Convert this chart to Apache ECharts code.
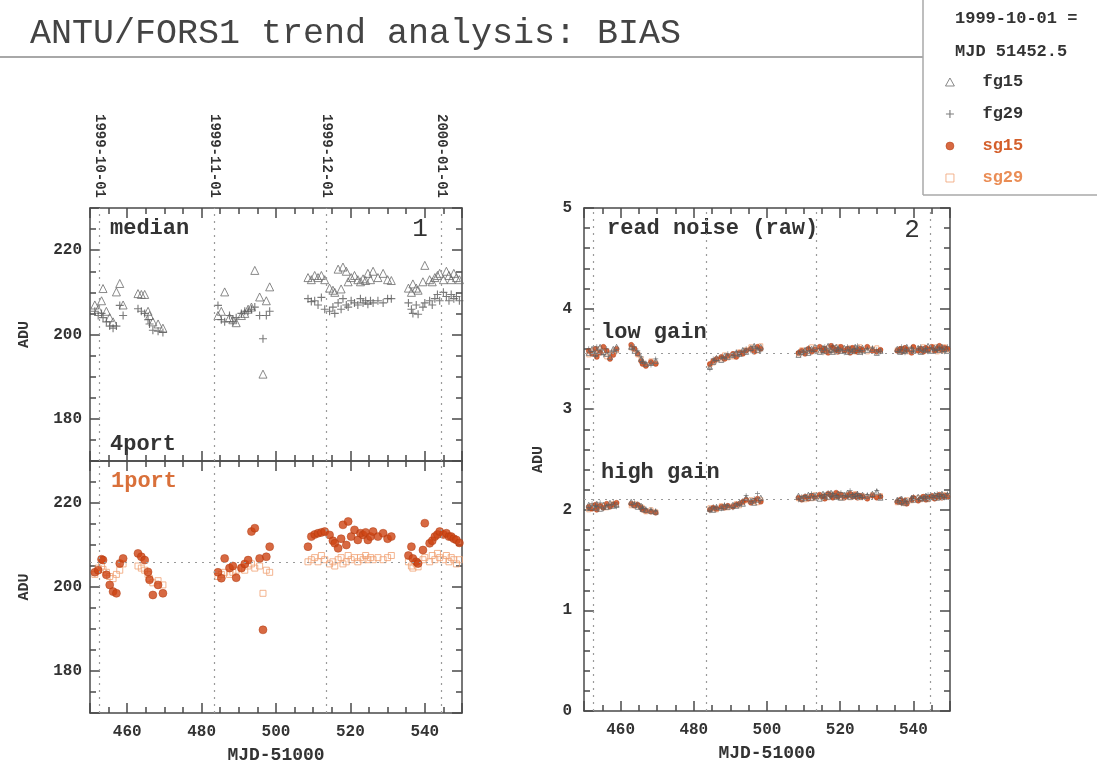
<!DOCTYPE html>
<html>
<head>
<meta charset="utf-8">
<script src="https://cdn.jsdelivr.net/npm/echarts@6/dist/echarts.min.js"></script>
<style>html,body{margin:0;padding:0;background:#fff}#c{width:1097px;height:767px}</style>
</head>
<body>
<div id="c"></div>
<script>
// ---- data (MJD-51000 of each observation night) ----
const mjd = [
  451.3, 452.2, 453.1, 453.5, 454.4, 455.3, 456.2, 457.1, 458.0, 458.9, 462.9, 463.8, 464.7, 465.6, 466.0, 466.9, 468.3, 469.6,
  484.4, 485.3, 486.2, 487.5, 488.4, 489.3, 490.7, 491.6, 492.5, 493.4, 494.3, 495.6, 496.5, 497.4, 498.3,
  508.6, 509.5, 510.4, 511.3, 512.2, 513.1, 514.4, 515.3, 515.8, 516.7, 517.5, 518.0, 518.9, 519.4, 520.2, 521.1, 522.0, 522.7, 523.4, 524.1, 524.7, 525.4, 526.1, 527.4, 528.8, 530.0, 531.0,
  535.6, 536.4, 536.8, 537.7, 538.2, 539.5, 540.0, 541.3, 542.0, 542.7, 543.4, 544.0, 545.0, 545.8, 546.5, 547.1, 547.8, 548.5, 549.3
];
// panel 1: median bias, 4port (fg) and 1port (sg)
const fg15Median = [
  207.0, 206.0, 208.0, 210.9, 205.5, 204.0, 203.0, 210.1, 212.1, 207.0, 209.7, 209.5, 209.5, 205.5, 204.5, 203.0, 202.5, 201.5,
  204.5, 205.5, 210.1, 204.0, 203.5, 202.8, 204.5, 205.0, 206.0, 206.5, 215.2, 208.9, 190.6, 208.0, 211.3,
  213.5, 213.0, 214.0, 213.5, 214.0, 213.0, 211.0, 210.5, 210.0, 215.5, 210.8, 216.0, 215.0, 212.5, 213.5, 214.0, 213.0, 212.5, 213.2, 212.8, 214.5, 213.0, 215.0, 213.5, 214.5, 213.0, 212.8,
  211.0, 210.0, 212.0, 211.0, 210.5, 212.5, 216.4, 213.0, 212.5, 213.5, 214.0, 214.5, 213.0, 215.0, 214.0, 213.0, 214.5, 213.5, 213.0
];
const fg29Median = [
  205.5, 204.5, 205.0, 204.0, 203.0, 202.0, 201.5, 202.0, 206.9, 204.5, 206.1, 205.5, 205.0, 203.5, 202.5, 201.0, 200.8, 200.5,
  206.9, 203.5, 203.0, 204.5, 203.0, 204.0, 205.0, 205.5, 205.5, 206.0, 206.5, 204.5, 199.0, 204.5, 205.5,
  208.5, 207.8, 208.0, 207.0, 208.8, 206.0, 205.5, 206.5, 205.0, 207.5, 206.0, 208.5, 207.0, 206.5, 208.0, 207.5, 207.0, 208.5, 207.5, 208.0, 207.2, 208.0, 207.5, 208.0, 207.5, 208.5, 208.5,
  207.5, 206.0, 205.0, 207.0, 204.8, 206.5, 207.5, 208.0, 207.0, 208.5, 209.5, 208.0, 210.0, 209.0, 208.0, 209.5, 208.5, 209.0, 208.0
];
const sg15Median = [
  203.5, 204.0, 206.6, 206.4, 202.9, 200.5, 198.9, 198.5, 205.6, 206.8, 208.0, 207.2, 206.4, 203.6, 201.7, 198.1, 200.5, 198.5,
  203.5, 202.1, 206.8, 204.5, 205.0, 202.2, 204.5, 205.5, 206.4, 213.2, 214.0, 206.8, 189.8, 207.2, 209.6,
  209.6, 212.0, 212.5, 212.8, 213.0, 213.2, 212.4, 211.0, 210.4, 209.2, 211.5, 214.8, 210.0, 215.6, 212.0, 213.6, 211.2, 212.8, 212.4, 213.0, 211.2, 212.0, 213.2, 212.0, 212.8, 211.5, 212.0,
  207.5, 209.6, 206.8, 206.0, 205.6, 208.8, 215.2, 210.4, 211.0, 212.0, 212.5, 213.2, 212.5, 212.8, 212.0, 212.0, 211.5, 211.2, 210.5
];
const sg29Median = [
  203.0, 204.5, 205.0, 204.2, 203.5, 202.5, 202.0, 203.0, 204.0, 205.5, 205.0, 204.5, 204.0, 203.0, 202.0, 201.0, 201.5, 200.5,
  202.5, 203.0, 203.5, 203.0, 203.5, 204.0, 204.5, 204.0, 205.0, 205.5, 204.5, 205.0, 198.5, 204.0, 203.5,
  206.0, 206.5, 207.0, 206.0, 207.5, 206.5, 205.5, 206.0, 205.0, 206.5, 207.0, 205.5, 206.0, 207.5, 206.5, 207.0, 206.0, 207.0, 206.5, 207.5, 206.5, 207.0, 206.5, 207.0, 206.5, 207.0, 207.5,
  206.0, 205.0, 204.5, 205.5, 204.8, 206.5, 207.0, 206.0, 207.5, 206.5, 208.0, 207.0, 206.5, 207.5, 206.0, 207.0, 206.5, 205.5, 206.5
];
// panel 2: read noise (raw), low gain
const fg15Low = [
  3.56, 3.60, 3.55, 3.58, 3.62, 3.57, 3.55, 3.52, 3.60, 3.62, 3.62, 3.58, 3.56, 3.50, 3.48, 3.45, 3.46, 3.48,
  3.42, 3.47, 3.51, 3.49, 3.53, 3.52, 3.54, 3.56, 3.55, 3.59, 3.57, 3.61, 3.63, 3.59, 3.62,
  3.54, 3.57, 3.59, 3.56, 3.60, 3.62, 3.57, 3.61, 3.58, 3.63, 3.59, 3.57, 3.62, 3.60, 3.58, 3.61, 3.57, 3.60, 3.58, 3.62, 3.60, 3.57, 3.61, 3.59, 3.60, 3.56, 3.58,
  3.60, 3.57, 3.59, 3.58, 3.62, 3.60, 3.58, 3.61, 3.57, 3.60, 3.59, 3.63, 3.58, 3.61, 3.62, 3.59, 3.62, 3.60, 3.58
];
const fg29Low = [
  3.60, 3.57, 3.53, 3.62, 3.58, 3.54, 3.60, 3.56, 3.58, 3.57, 3.60, 3.62, 3.58, 3.52, 3.47, 3.46, 3.44, 3.50,
  3.40, 3.50, 3.48, 3.52, 3.51, 3.55, 3.53, 3.57, 3.54, 3.58, 3.60, 3.58, 3.62, 3.60, 3.58,
  3.57, 3.55, 3.58, 3.61, 3.58, 3.57, 3.60, 3.56, 3.62, 3.59, 3.57, 3.63, 3.58, 3.61, 3.59, 3.56, 3.62, 3.59, 3.57, 3.60, 3.63, 3.58, 3.56, 3.60, 3.61, 3.59, 3.57,
  3.57, 3.59, 3.62, 3.56, 3.58, 3.61, 3.57, 3.60, 3.62, 3.58, 3.60, 3.57, 3.61, 3.59, 3.58, 3.61, 3.60, 3.57, 3.62
];
const sg15Low = [
  3.58, 3.55, 3.60, 3.52, 3.56, 3.62, 3.58, 3.50, 3.54, 3.60, 3.64, 3.60, 3.55, 3.48, 3.45, 3.43, 3.47, 3.45,
  3.45, 3.48, 3.50, 3.52, 3.50, 3.53, 3.55, 3.52, 3.56, 3.55, 3.58, 3.60, 3.57, 3.62, 3.60,
  3.56, 3.58, 3.55, 3.60, 3.57, 3.59, 3.62, 3.58, 3.60, 3.56, 3.63, 3.61, 3.59, 3.57, 3.62, 3.58, 3.60, 3.56, 3.61, 3.58, 3.57, 3.60, 3.59, 3.62, 3.58, 3.57, 3.59,
  3.58, 3.60, 3.57, 3.61, 3.59, 3.56, 3.62, 3.58, 3.60, 3.57, 3.61, 3.59, 3.62, 3.58, 3.60, 3.63, 3.59, 3.61, 3.60
];
const sg29Low = [
  3.54, 3.58, 3.57, 3.55, 3.60, 3.58, 3.52, 3.55, 3.57, 3.58, 3.61, 3.59, 3.54, 3.50, 3.46, 3.44, 3.48, 3.46,
  3.44, 3.46, 3.49, 3.50, 3.54, 3.51, 3.52, 3.54, 3.57, 3.56, 3.59, 3.62, 3.60, 3.58, 3.63,
  3.55, 3.59, 3.57, 3.58, 3.62, 3.60, 3.58, 3.60, 3.57, 3.61, 3.58, 3.60, 3.57, 3.62, 3.60, 3.59, 3.58, 3.61, 3.60, 3.57, 3.59, 3.62, 3.58, 3.57, 3.60, 3.61, 3.58,
  3.59, 3.58, 3.60, 3.59, 3.57, 3.60, 3.61, 3.59, 3.58, 3.62, 3.58, 3.60, 3.59, 3.62, 3.57, 3.60, 3.58, 3.62, 3.59
];
// panel 2: read noise (raw), high gain
const fg15High = [
  2.05, 2.03, 2.02, 2.06, 2.01, 2.05, 2.03, 2.07, 2.04, 2.05, 2.08, 2.05, 2.03, 2.04, 2.01, 2.00, 1.99, 1.98,
  2.01, 2.00, 2.03, 2.02, 2.04, 2.03, 2.05, 2.04, 2.07, 2.06, 2.12, 2.09, 2.07, 2.10, 2.12,
  2.14, 2.11, 2.12, 2.15, 2.12, 2.14, 2.11, 2.16, 2.14, 2.13, 2.17, 2.15, 2.13, 2.16, 2.12, 2.15, 2.17, 2.13, 2.15, 2.14, 2.16, 2.13, 2.15, 2.14, 2.16, 2.18, 2.12,
  2.10, 2.08, 2.11, 2.07, 2.09, 2.12, 2.10, 2.13, 2.11, 2.12, 2.14, 2.11, 2.13, 2.15, 2.12, 2.14, 2.16, 2.13, 2.15
];
const fg29High = [
  2.02, 2.06, 2.04, 2.03, 2.07, 2.01, 2.04, 2.05, 2.07, 2.03, 2.05, 2.07, 2.06, 2.01, 2.03, 2.01, 2.00, 1.99,
  1.99, 2.03, 2.02, 2.01, 2.05, 2.04, 2.02, 2.06, 2.05, 2.09, 2.14, 2.08, 2.11, 2.16, 2.09,
  2.10, 2.13, 2.14, 2.12, 2.16, 2.13, 2.14, 2.12, 2.15, 2.17, 2.13, 2.16, 2.14, 2.12, 2.17, 2.14, 2.13, 2.19, 2.15, 2.13, 2.16, 2.14, 2.12, 2.15, 2.13, 2.19, 2.14,
  2.09, 2.11, 2.06, 2.10, 2.08, 2.11, 2.13, 2.10, 2.12, 2.11, 2.13, 2.15, 2.12, 2.14, 2.16, 2.13, 2.15, 2.12, 2.16
];
const sg15High = [
  2.03, 2.01, 2.05, 2.00, 2.04, 2.02, 2.06, 2.03, 2.05, 2.07, 2.06, 2.04, 2.05, 2.02, 2.00, 1.99, 1.98, 1.97,
  2.00, 2.02, 2.01, 2.03, 2.02, 2.04, 2.03, 2.05, 2.06, 2.08, 2.10, 2.07, 2.09, 2.11, 2.08,
  2.12, 2.10, 2.13, 2.11, 2.14, 2.12, 2.15, 2.13, 2.11, 2.16, 2.14, 2.12, 2.17, 2.13, 2.15, 2.12, 2.14, 2.16, 2.13, 2.15, 2.12, 2.14, 2.13, 2.11, 2.14, 2.12, 2.13,
  2.08, 2.10, 2.07, 2.09, 2.06, 2.10, 2.12, 2.09, 2.11, 2.13, 2.10, 2.12, 2.14, 2.11, 2.13, 2.15, 2.12, 2.14, 2.13
];
const sg29High = [
  2.00, 2.04, 2.03, 2.02, 2.03, 2.04, 2.02, 2.04, 2.06, 2.05, 2.04, 2.06, 2.04, 2.03, 2.02, 1.98, 2.00, 1.98,
  2.02, 2.01, 2.00, 2.04, 2.03, 2.02, 2.04, 2.06, 2.04, 2.07, 2.09, 2.10, 2.08, 2.07, 2.10,
  2.11, 2.12, 2.10, 2.13, 2.11, 2.15, 2.13, 2.12, 2.14, 2.12, 2.15, 2.13, 2.14, 2.16, 2.12, 2.14, 2.15, 2.12, 2.14, 2.16, 2.13, 2.12, 2.14, 2.13, 2.15, 2.13, 2.14,
  2.07, 2.09, 2.08, 2.06, 2.10, 2.09, 2.11, 2.12, 2.10, 2.13, 2.12, 2.10, 2.13, 2.12, 2.14, 2.12, 2.13, 2.15, 2.14
];
// reference marks and labels
const dateTicks = [452.5, 483.5, 513.5, 544.5];
const dateLabels = ['1999-10-01', '1999-11-01', '1999-12-01', '2000-01-01'];
const biasRef = [206];
const noiseRef = [3.56, 2.10];

// ---- chart ----
const MONO = '"Liberation Mono", "DejaVu Sans Mono", monospace';
const FRAME = '#4a4a4a';
const pairs = ys => mjd.map((x, i) => (ys[i] == null ? null : [x, ys[i]])).filter(Boolean);
const symPlus = 'path://M4.3,0H5.7V10H4.3Z M0,4.3H10V5.7H0Z';
const iconTri = 'path://M5,0L10,9H0Z';
const iconSq = 'path://M0,0H10V10H0Z';
const look = {
  fg15: { symbol: 'triangle', itemStyle: { color: 'rgba(255,255,255,0)', borderColor: '#6b6b6b', borderWidth: 1 } },
  fg29: { symbol: symPlus, itemStyle: { color: '#5a5a5a' } },
  sg15: { symbol: 'circle', itemStyle: { color: '#cd4413', borderColor: '#b03a10', borderWidth: 0.6 } },
  sg29: { symbol: 'rect', itemStyle: { color: 'rgba(255,255,255,0)', borderColor: '#f0a173', borderWidth: 1 } }
};
const bigSize = { fg15: 8, fg29: 8, sg15: 8, sg29: 6 };
const smallSize = { fg15: 5, fg29: 5, sg15: 5, sg29: 4 };

function refLines(hvals) {
  return {
    silent: true, symbol: 'none', animation: false,
    label: { show: false },
    lineStyle: { color: '#9a9a9a', type: [2, 5], width: 1.2 },
    emphasis: { disabled: true },
    data: dateTicks.map(v => ({ xAxis: v })).concat(hvals.map(v => ({ yAxis: v })))
  };
}
function sc(name, xi, yi, data, size, ml) {
  const s = {
    type: 'scatter', name: name, xAxisIndex: xi, yAxisIndex: yi, data: data,
    symbol: look[name].symbol, symbolSize: size[name], itemStyle: look[name].itemStyle,
    animation: false, emphasis: { disabled: true }
  };
  if (ml) s.markLine = ml;
  return s;
}
const lineStyle = { color: FRAME, width: 1.5 };
function xAx(grid, pos, labels, name) {
  return {
    type: 'value', gridIndex: grid, position: pos, min: 450, max: 550, splitNumber: 5,
    axisLine: { show: true, onZero: false, lineStyle },
    axisTick: { show: true, inside: true, length: 10, lineStyle },
    minorTick: { show: true, splitNumber: 4, length: 6, lineStyle },
    splitLine: { show: false },
    axisLabel: labels ? { show: true, showMinLabel: false, showMaxLabel: false, margin: 11,
      fontFamily: MONO, fontSize: 16, fontWeight: 'bold', color: '#333' } : { show: false },
    name: name || '', nameLocation: 'middle', nameGap: 33,
    nameTextStyle: { fontFamily: MONO, fontSize: 18, fontWeight: 'bold', color: '#333' }
  };
}
function yBias(grid, pos, labels) {
  return {
    type: 'value', gridIndex: grid, position: pos, min: 170, max: 230, splitNumber: 3,
    axisLine: { show: true, onZero: false, lineStyle },
    axisTick: { show: true, inside: true, length: 10, lineStyle },
    minorTick: { show: true, splitNumber: 4, length: 6, lineStyle },
    splitLine: { show: false },
    axisLabel: labels ? { show: true, showMinLabel: false, showMaxLabel: false, margin: 8,
      fontFamily: MONO, fontSize: 16, fontWeight: 'bold', color: '#333' } : { show: false },
    name: labels ? 'ADU' : '', nameLocation: 'middle', nameGap: 58,
    nameTextStyle: { fontFamily: MONO, fontSize: 15, fontWeight: 'bold', color: '#333' }
  };
}
function yNoise(pos, labels) {
  return {
    type: 'value', gridIndex: 2, position: pos, min: 0, max: 5, interval: 1,
    axisLine: { show: true, onZero: false, lineStyle },
    axisTick: { show: true, inside: true, length: 10, lineStyle },
    minorTick: { show: true, splitNumber: 5, length: 6, lineStyle },
    splitLine: { show: false },
    axisLabel: labels ? { show: true, margin: 12, fontFamily: MONO, fontSize: 16, fontWeight: 'bold', color: '#333' } : { show: false },
    name: labels ? 'ADU' : '', nameLocation: 'middle', nameGap: 38,
    nameTextStyle: { fontFamily: MONO, fontSize: 15, fontWeight: 'bold', color: '#333' }
  };
}
const topDates = xAx(0, 'top', false);
topDates.axisLabel = {
  show: true, customValues: dateTicks, rotate: 90, margin: 10,
  fontFamily: MONO, fontSize: 14, fontWeight: 'bold', color: '#333',
  formatter: v => { const i = dateTicks.findIndex(d => Math.abs(d - v) < 1e-6); return i >= 0 ? dateLabels[i] : ''; }
};

const txt = (x, y, t, opts) => ({
  type: 'text', x: x, y: y, silent: true,
  style: Object.assign({ text: t, font: 'bold 22px ' + MONO, fill: '#333', align: 'left', verticalAlign: 'middle' }, opts || {})
});

const option = {
  backgroundColor: '#fff',
  animation: false,
  grid: [
    { left: 90, top: 208, width: 372, height: 253 },
    { left: 90, top: 461, width: 372, height: 252 },
    { left: 584, top: 208, width: 366, height: 505 }
  ],
  xAxis: [
    xAx(0, 'bottom', false), topDates,
    xAx(1, 'bottom', true, 'MJD-51000'), xAx(1, 'top', false),
    xAx(2, 'bottom', true, 'MJD-51000'), xAx(2, 'top', false)
  ],
  yAxis: [
    yBias(0, 'left', true), yBias(0, 'right', false),
    yBias(1, 'left', true), yBias(1, 'right', false),
    yNoise('left', true), yNoise('right', false)
  ],
  legend: {
    orient: 'vertical', left: 945, top: 73, padding: 0,
    itemWidth: 9, itemHeight: 8, itemGap: 14,
    textStyle: { fontFamily: MONO, fontSize: 17, fontWeight: 'bold', lineHeight: 18, padding: [0, 0, 0, 23] },
    data: [
      { name: 'fg15', icon: iconTri, itemStyle: look.fg15.itemStyle, textStyle: { color: '#333' } },
      { name: 'fg29', icon: symPlus, itemStyle: look.fg29.itemStyle, textStyle: { color: '#333' } },
      { name: 'sg15', icon: 'circle', itemStyle: look.sg15.itemStyle, textStyle: { color: '#d4602c' } },
      { name: 'sg29', icon: iconSq, itemStyle: look.sg29.itemStyle, textStyle: { color: '#ea8d55' } }
    ]
  },
  graphic: [
    txt(30, 34, 'ANTU/FORS1 trend analysis: BIAS', { font: '35px ' + MONO, fill: '#444' }),
    { type: 'line', silent: true, shape: { x1: 0, y1: 57, x2: 923, y2: 57 }, style: { stroke: '#a8a8a8', lineWidth: 2 } },
    { type: 'line', silent: true, shape: { x1: 923, y1: 0, x2: 923, y2: 195 }, style: { stroke: '#a8a8a8', lineWidth: 1.5 } },
    { type: 'line', silent: true, shape: { x1: 923, y1: 195, x2: 1097, y2: 195 }, style: { stroke: '#a8a8a8', lineWidth: 1.5 } },
    txt(955, 19, '1999-10-01 =', { font: 'bold 17px ' + MONO }),
    txt(955, 52, 'MJD 51452.5', { font: 'bold 17px ' + MONO }),
    txt(110, 228, 'median'),
    txt(420, 229, '1', { font: '26px ' + MONO, align: 'center' }),
    txt(110, 444, '4port'),
    txt(111, 481, '1port', { fill: '#d9703a' }),
    txt(607, 228, 'read noise (raw)'),
    txt(912, 230, '2', { font: '26px ' + MONO, align: 'center' }),
    txt(601, 332, 'low gain'),
    txt(601, 472, 'high gain')
  ],
  series: [
    sc('fg15', 0, 0, pairs(fg15Median), bigSize, refLines([])),
    sc('fg29', 0, 0, pairs(fg29Median), bigSize),
    sc('sg29', 2, 2, pairs(sg29Median), bigSize, refLines(biasRef)),
    sc('sg15', 2, 2, pairs(sg15Median), bigSize),
    sc('sg29', 4, 4, pairs(sg29Low).concat(pairs(sg29High)), smallSize, refLines(noiseRef)),
    sc('sg15', 4, 4, pairs(sg15Low).concat(pairs(sg15High)), smallSize),
    sc('fg15', 4, 4, pairs(fg15Low).concat(pairs(fg15High)), smallSize),
    sc('fg29', 4, 4, pairs(fg29Low).concat(pairs(fg29High)), smallSize)
  ]
};
const chart = echarts.init(document.getElementById('c'), null, { renderer: 'canvas' });
chart.setOption(option);
</script>
</body>
</html>
